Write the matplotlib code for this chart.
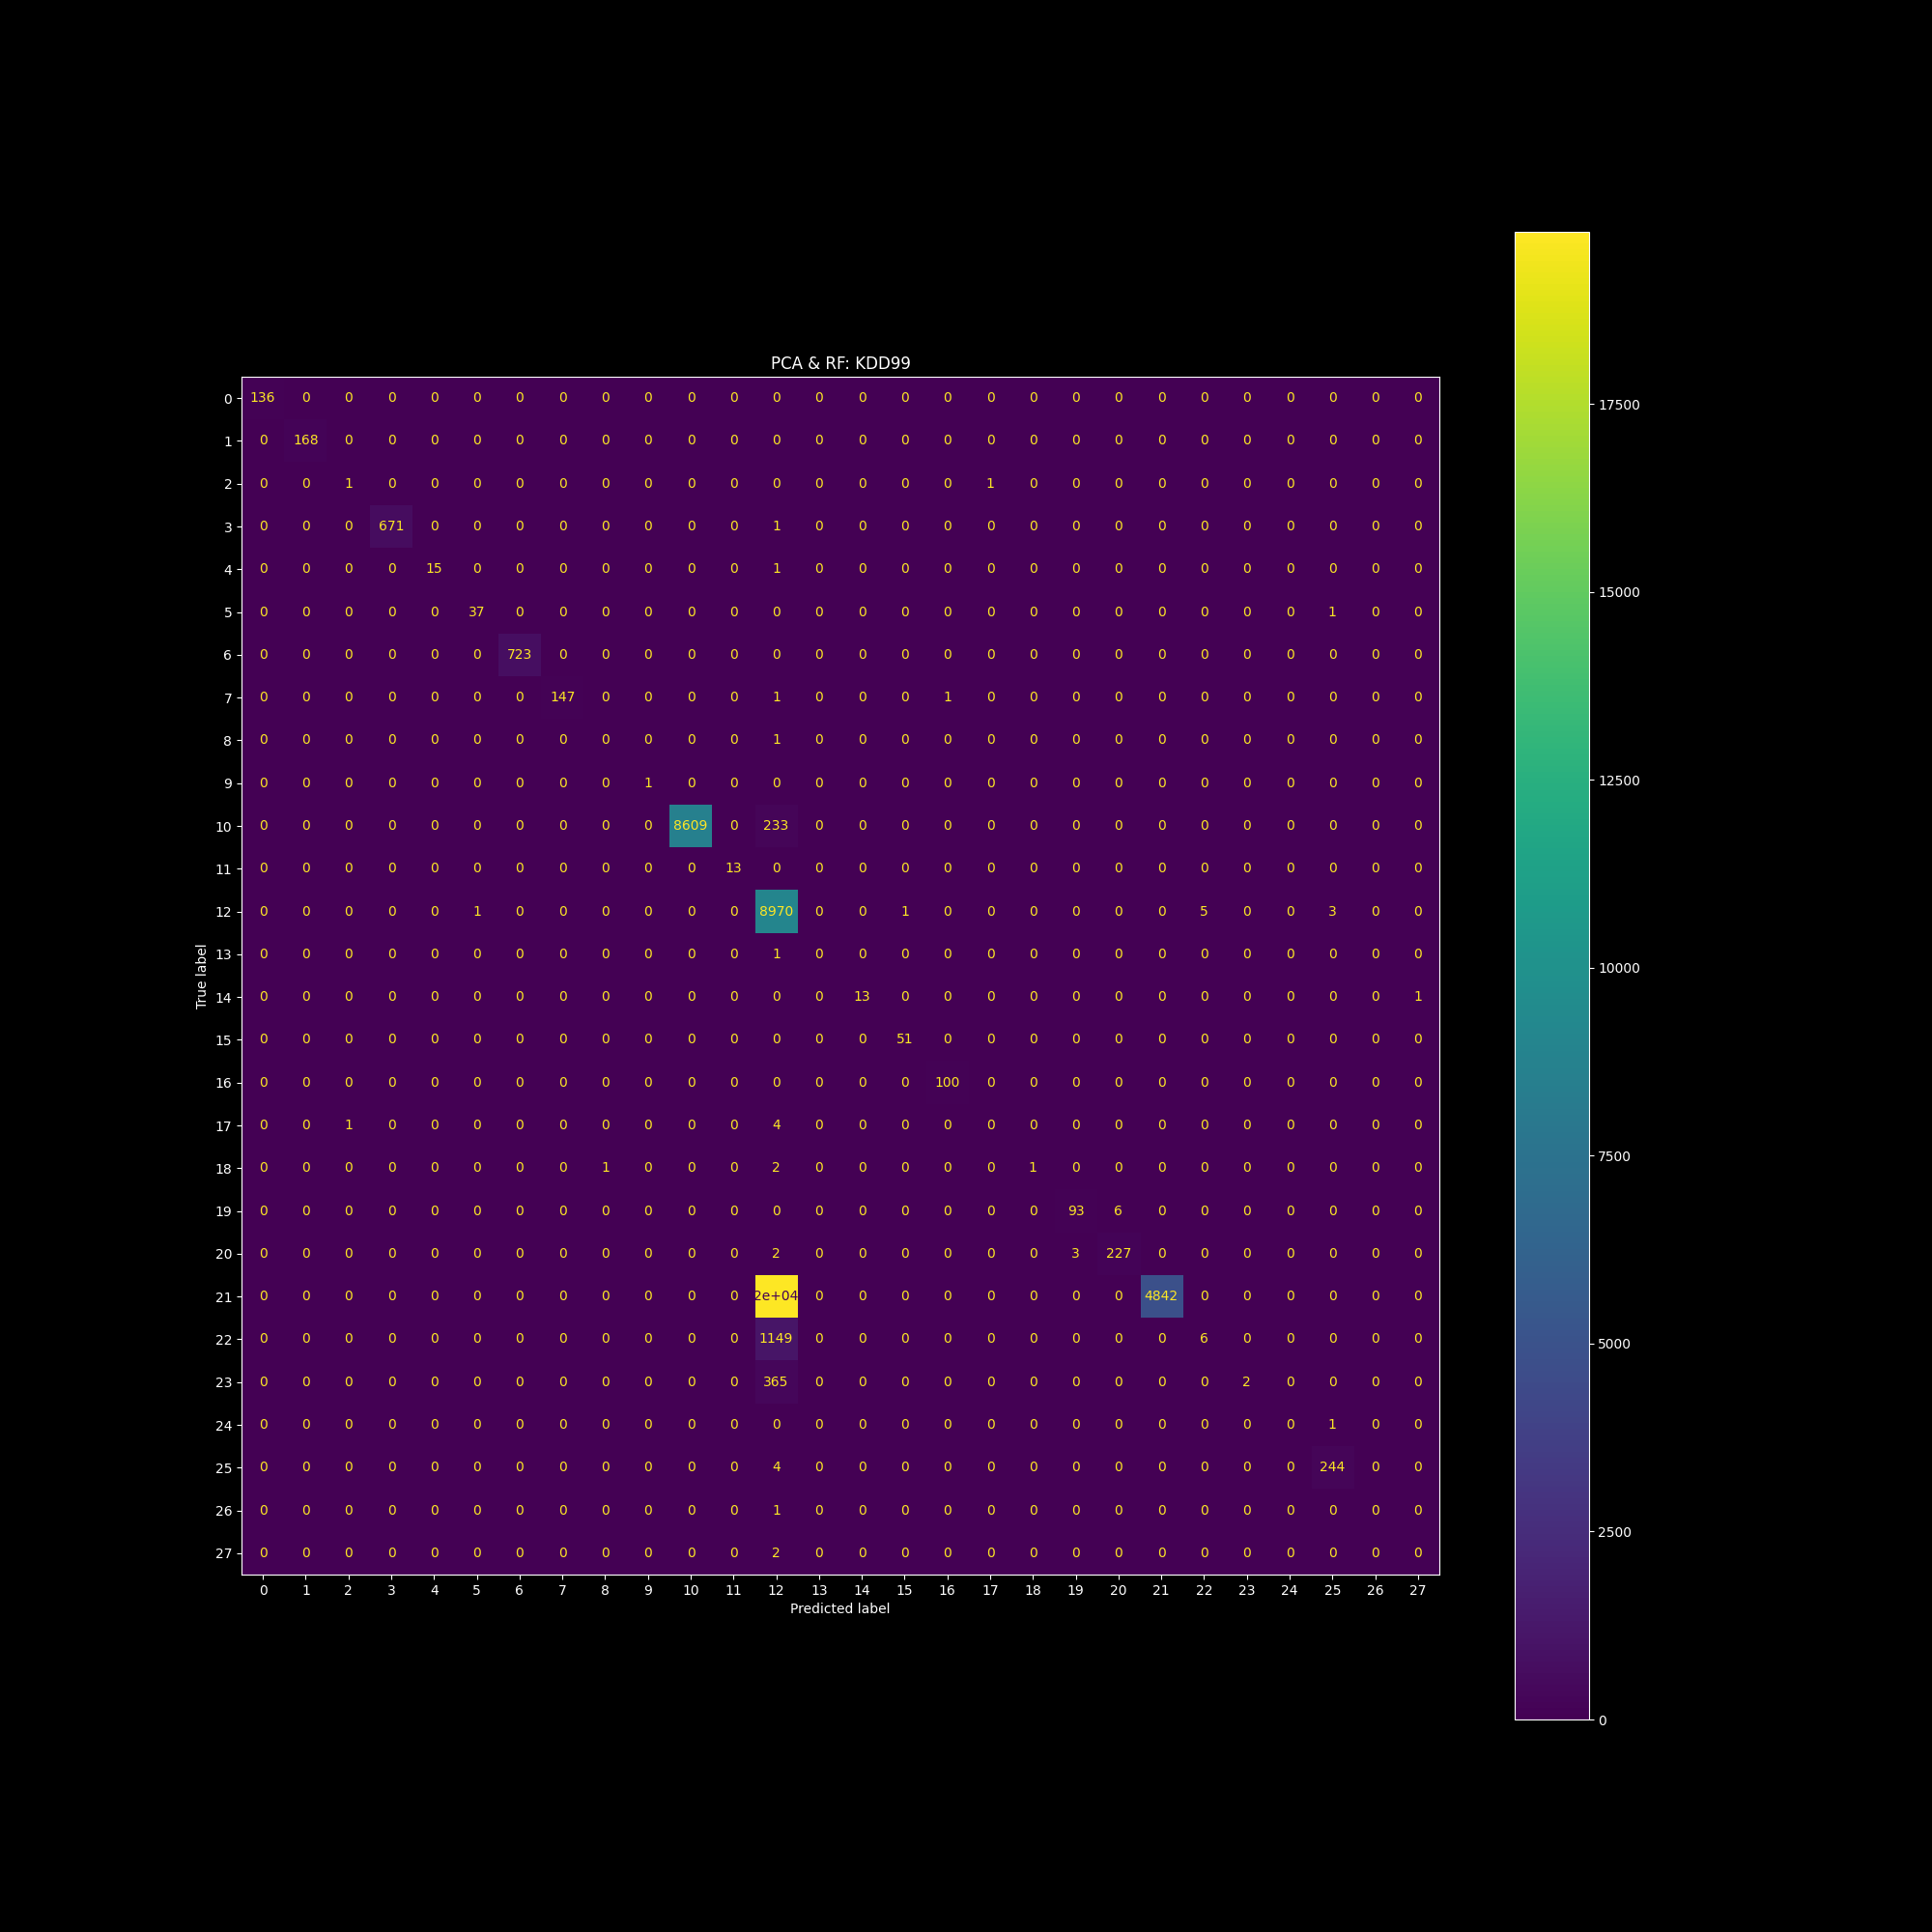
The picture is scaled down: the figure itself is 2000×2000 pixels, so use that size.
import numpy as np
import matplotlib
matplotlib.use('Agg')
import matplotlib.pyplot as plt

plt.style.use('dark_background')

# ── 혼동행렬 (0이 아닌 칸만)
N_CLASSES = 28
true_idx = [0, 1, 2, 2, 3, 3, 4, 4, 5, 5, 6, 7, 7, 7, 8, 9, 10, 10, 11,
            12, 12, 12, 12, 12, 13, 14, 14, 15, 16, 17, 17, 18, 18, 18,
            19, 19, 20, 20, 20, 21, 21, 22, 22, 23, 23, 24, 25, 25, 26, 27]
pred_idx = [0, 1, 2, 17, 3, 12, 4, 12, 5, 25, 6, 7, 12, 16, 12, 9, 10, 12, 11,
            5, 12, 15, 22, 25, 12, 14, 27, 15, 16, 2, 12, 8, 12, 18,
            19, 20, 12, 19, 20, 12, 21, 12, 22, 12, 23, 25, 12, 25, 12, 12]
counts = [136, 168, 1, 1, 671, 1, 15, 1, 37, 1, 723, 147, 1, 1, 1, 1, 8609, 233, 13,
          1, 8970, 1, 5, 3, 1, 13, 1, 51, 100, 1, 4, 1, 2, 1,
          93, 6, 2, 3, 227, 19790, 4842, 1149, 6, 365, 2, 1, 4, 244, 1, 2]
labels = [str(i) for i in range(N_CLASSES)]

cm = np.zeros((N_CLASSES, N_CLASSES), dtype=int)
cm[true_idx, pred_idx] = counts

fig, ax = plt.subplots(figsize=(20, 20), dpi=100)
im = ax.imshow(cm, interpolation='nearest', cmap='viridis')
cmap_min, cmap_max = im.cmap(0), im.cmap(1.0)
thresh = (cm.max() + cm.min()) / 2.0

for i in range(N_CLASSES):
    for j in range(N_CLASSES):
        v = cm[i, j]
        color = cmap_max if v < thresh else cmap_min
        txt = format(v, '.2g')
        if len(txt) > len(format(v, 'd')):
            txt = format(v, 'd')
        ax.text(j, i, txt, ha='center', va='center', color=color)

fig.colorbar(im, ax=ax)
ax.set(xticks=np.arange(N_CLASSES), yticks=np.arange(N_CLASSES),
       xticklabels=labels, yticklabels=labels,
       xlabel='Predicted label', ylabel='True label')
ax.set_ylim((N_CLASSES - 0.5, -0.5))
ax.set_title('PCA & RF: KDD99')

plt.savefig('out.png', dpi=100)
plt.close()
